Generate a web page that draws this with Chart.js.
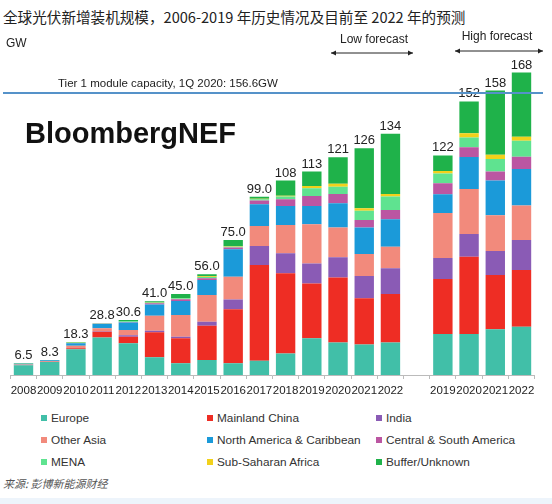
<!DOCTYPE html>
<html>
<head>
<meta charset="utf-8">
<script src="https://cdn.jsdelivr.net/npm/chart.js@4/dist/chart.umd.min.js"></script>
<style>
  body { margin: 0; width: 552px; height: 504px; background: #fff; position: relative; overflow: hidden;
         font-family: "Liberation Sans", Arial, sans-serif; color: #222; }
  #chart { position: absolute; left: 0; top: 0; }
  .title { position: absolute; left: 3px; top: 6px; font-family: "Noto Sans CJK SC", sans-serif;
           font-size: 14.6px; white-space: nowrap; color: #222; }
  .legend { position: absolute; left: 0; top: 411px; width: 552px; }
  .item { position: absolute; display: flex; align-items: center; height: 14px;
          font-size: 11.8px; white-space: nowrap; color: #333; }
  .item span { display: inline-block; width: 6px; height: 6px; margin-right: 4px; }
  .src { position: absolute; left: 3px; top: 475px; font-family: "Noto Sans CJK SC", sans-serif;
         font-size: 11px; font-style: italic; color: #555; }
  .band { position: absolute; left: 0; top: 498px; width: 552px; height: 6px; background: #edf4fb; }
</style>
</head>
<body>
<div class="title">全球光伏新增装机规模，2006-2019 年历史情况及目前至 2022 年的预测</div>
<canvas id="chart" width="552" height="400"></canvas>
<div class="legend" id="legend"></div>
<div class="src">来源: 彭博新能源财经</div>
<div class="band"></div>
<script>
const years = ['2008', '2009', '2010', '2011', '2012', '2013', '2014', '2015', '2016', '2017',
  '2018', '2019', '2020', '2021', '2022', '', '2019', '2020', '2021', '2022'];
const totalLabels = ['6.5', '8.3', '18.3', '28.8', '30.6', '41.0', '45.0', '56.0', '75.0', '99.0',
  '108', '113', '121', '126', '134', '', '122', '152', '158', '168'];

const europe    = [5.4, 7.2, 14.3, 20.9, 17.6, 9.8, 6.5, 8.3, 6.5, 7.9, 12, 20.4, 18, 17, 18, null, 22.8, 22.8, 25.4, 26.8];
const china     = [0.1, 0.2, 0.6, 3.1, 3.7, 13.9, 13.9, 19.1, 30, 53.2, 44.5, 30.5, 36.1, 25.6, 27, null, 30.5, 42.9, 30.2, 31.5];
const india     = [0, 0, 0.1, 0.3, 0.8, 0.9, 0.9, 2.2, 5.5, 10.6, 11.1, 11.1, 11.3, 12.4, 14.3, null, 11.7, 12.6, 13.3, 16.7];
const otherAsia = [0.3, 0.3, 1.3, 1.7, 2.9, 8.3, 12, 14.8, 12.6, 11.1, 15.7, 21.7, 16.6, 12.2, 12, null, 25, 25, 19.8, 19.1];
const northAm   = [0.5, 0.5, 1.3, 2.3, 4.2, 6.3, 7.8, 8.4, 15.2, 12, 10.6, 10.2, 13.4, 14.8, 15.2, null, 10.4, 17.8, 19.3, 20.3];
const csAmerica = [0, 0, 0.2, 0.2, 0.3, 0.6, 1, 0.9, 1, 2.1, 3.7, 5.5, 5.2, 4.1, 5.2, null, 6.1, 5.4, 5, 6.9];
const mena      = [0, 0, 0.1, 0.2, 0.3, 0.3, 0.5, 0.8, 0.5, 0.8, 1.5, 4.3, 4, 5.2, 7.4, null, 5.5, 5.5, 7, 8.9];
const ssAfrica  = [0, 0, 0.1, 0.1, 0.1, 0.2, 0.2, 0.3, 0.2, 0.2, 0.5, 1.3, 1.7, 1.3, 1.5, null, 1.3, 2.3, 2.4, 2.2];
const buffer    = [0.2, 0.1, 0.3, 0, 0.7, 0.7, 2.2, 1.2, 3.5, 1.1, 8.4, 8, 14.7, 33.4, 33.4, null, 8.7, 17.7, 35.6, 35.6];

const tierCapacity = 156.6;

const series = [
  { label: 'Europe', data: europe, color: '#41bfa8' },
  { label: 'Mainland China', data: china, color: '#ee2d24' },
  { label: 'India', data: india, color: '#8a5bb5' },
  { label: 'Other Asia', data: otherAsia, color: '#f28a7c' },
  { label: 'North America & Caribbean', data: northAm, color: '#1b9ad9' },
  { label: 'Central & South America', data: csAmerica, color: '#bb56a2' },
  { label: 'MENA', data: mena, color: '#5fe390' },
  { label: 'Sub-Saharan Africa', data: ssAfrica, color: '#f2d11b' },
  { label: 'Buffer/Unknown', data: buffer, color: '#1fb24a' }
];

const font = '"Liberation Sans", Arial, sans-serif';

// legend in three columns, like the original
const legendCols = [41, 207, 376];
const legend = document.getElementById('legend');
series.forEach(function(s, i) {
  const el = document.createElement('div');
  el.className = 'item';
  el.style.left = legendCols[i % 3] + 'px';
  el.style.top = (Math.floor(i / 3) * 22) + 'px';
  el.innerHTML = '<span style="background:' + s.color + '"></span>' + s.label;
  legend.appendChild(el);
});

function arrow(ctx, x1, x2, y) {
  ctx.beginPath();
  ctx.moveTo(x1, y); ctx.lineTo(x2, y);
  ctx.stroke();
  ctx.beginPath();
  ctx.moveTo(x1, y); ctx.lineTo(x1 + 5, y - 2.5); ctx.lineTo(x1 + 5, y + 2.5); ctx.closePath();
  ctx.moveTo(x2, y); ctx.lineTo(x2 - 5, y - 2.5); ctx.lineTo(x2 - 5, y + 2.5); ctx.closePath();
  ctx.fill();
}

const extras = {
  id: 'extras',
  afterDatasetsDraw(chart) {
    const ctx = chart.ctx;
    const x = chart.scales.x, y = chart.scales.y;
    ctx.save();

    // totals on top of bars
    ctx.font = '13px ' + font;
    ctx.fillStyle = '#222';
    ctx.textAlign = 'center';
    ctx.textBaseline = 'alphabetic';
    years.forEach(function(yr, i) {
      if (!totalLabels[i]) return;
      let sum = 0;
      series.forEach(function(s) { sum += s.data[i] || 0; });
      ctx.fillText(totalLabels[i], x.getPixelForValue(i), y.getPixelForValue(sum) - 4);
    });

    // tier 1 capacity line
    const ty = y.getPixelForValue(tierCapacity);
    ctx.strokeStyle = '#5592c9';
    ctx.lineWidth = 2;
    ctx.beginPath();
    ctx.moveTo(3, ty); ctx.lineTo(543, ty);
    ctx.stroke();
    ctx.font = '11.5px ' + font;
    ctx.textAlign = 'left';
    ctx.textBaseline = 'middle';
    ctx.fillText('Tier 1 module capacity, 1Q 2020: 156.6GW', 58, ty - 9);

    // GW unit
    ctx.font = '12px ' + font;
    ctx.fillText('GW', 6, 44);

    // forecast ranges
    ctx.textAlign = 'center';
    ctx.fillText('Low forecast', 374, 40);
    ctx.fillText('High forecast', 497, 37);
    ctx.strokeStyle = '#222';
    ctx.fillStyle = '#222';
    ctx.lineWidth = 1;
    arrow(ctx, 331, 413, 53);
    arrow(ctx, 455, 543, 51);

    // brand
    ctx.font = 'bold 29px ' + font;
    ctx.textAlign = 'left';
    ctx.textBaseline = 'alphabetic';
    ctx.fillStyle = '#111';
    ctx.fillText('BloombergNEF', 25, 143);
    ctx.restore();
  }
};

new Chart(document.getElementById('chart'), {
  type: 'bar',
  data: {
    labels: years,
    datasets: series.map(function(s) {
      return { label: s.label, data: s.data, backgroundColor: s.color, borderWidth: 0,
               barPercentage: 0.74, categoryPercentage: 1 };
    })
  },
  options: {
    responsive: false,
    animation: false,
    layout: { padding: { left: 10.4, right: 17.4, top: 51, bottom: 0 } },
    plugins: { legend: { display: false }, tooltip: { enabled: false } },
    scales: {
      x: {
        stacked: true,
        afterFit: function(scale) { scale.height = 25; },
        grid: { display: true, drawOnChartArea: false, tickLength: 4, color: '#bbb' },
        border: { color: '#bbb' },
        ticks: { autoSkip: false, maxRotation: 0, padding: 5, color: '#222',
                 font: { size: 11.5, family: font } }
      },
      y: { stacked: true, display: false, min: 0, max: 180 }
    }
  },
  plugins: [extras]
});
</script>
</body>
</html>
